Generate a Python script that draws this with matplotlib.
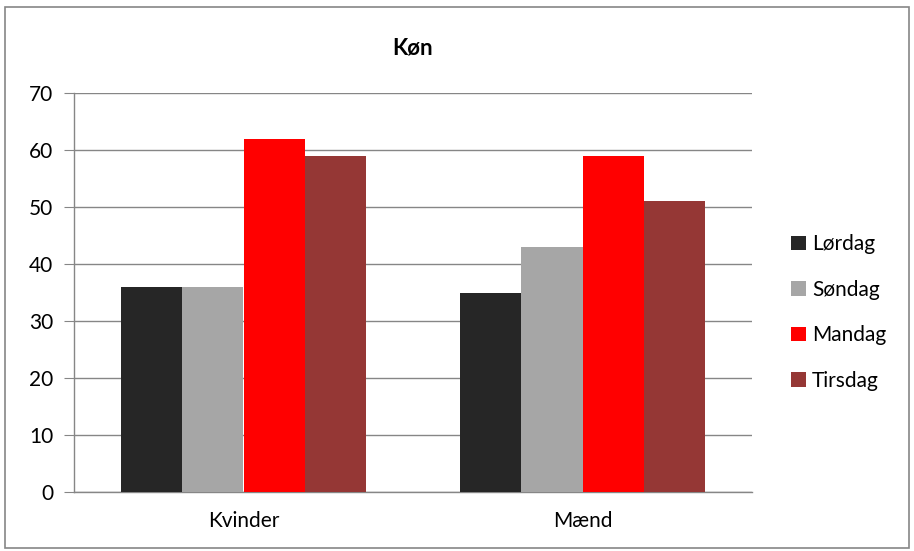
import numpy as np
import matplotlib
matplotlib.use("Agg")
import matplotlib.pyplot as plt
from matplotlib.patches import Rectangle

plt.rcParams['font.family'] = ['Lato', 'DejaVu Sans']

# data
categories = ["Kvinder", "Mænd"]
series = ["Lørdag", "Søndag", "Mandag", "Tirsdag"]
values = {
    "Lørdag": [36, 35],
    "Søndag": [36, 43],
    "Mandag": [62, 59],
    "Tirsdag": [59, 51],
}
colors = ["#262626", "#a6a6a6", "#ff0000", "#953735"]

fig = plt.figure(figsize=(9.14, 5.51), dpi=100)
ax = fig.add_axes([74 / 914, 59 / 551, 678 / 914, 399 / 551])

# outer chart border
fig.patches.append(Rectangle((0.006, 0.006), 0.988, 0.982, transform=fig.transFigure,
                             fill=False, edgecolor="#868686", linewidth=1.2))

x = np.arange(len(categories)) + 0.5
w = 0.181
for i, name in enumerate(series):
    ax.bar(x + (i - 1.5) * w, values[name], width=w, color=colors[i], label=name, zorder=3)

ax.set_xlim(0, 2)
ax.set_ylim(0, 70)
ax.set_yticks(range(0, 71, 10))
ax.set_xticks(x)
ax.set_xticklabels(categories)
ax.tick_params(axis="y", length=7, color="#868686", labelsize=15, pad=8)
ax.tick_params(axis="x", length=0, labelsize=15, pad=14)
ax.grid(axis="y", color="#868686", linewidth=1, zorder=0)
for s in ["top", "right"]:
    ax.spines[s].set_visible(False)
for s in ["left", "bottom"]:
    ax.spines[s].set_color("#868686")
    ax.spines[s].set_linewidth(1)

ax.set_title("Køn", fontsize=16, fontweight="bold", pad=28)

ax.legend(loc="center left", bbox_to_anchor=(1.03, 0.45), frameon=False, fontsize=15,
          handlelength=0.7, handleheight=0.7, handletextpad=0.3, labelspacing=1.22)

fig.savefig("out.png", dpi=100)
